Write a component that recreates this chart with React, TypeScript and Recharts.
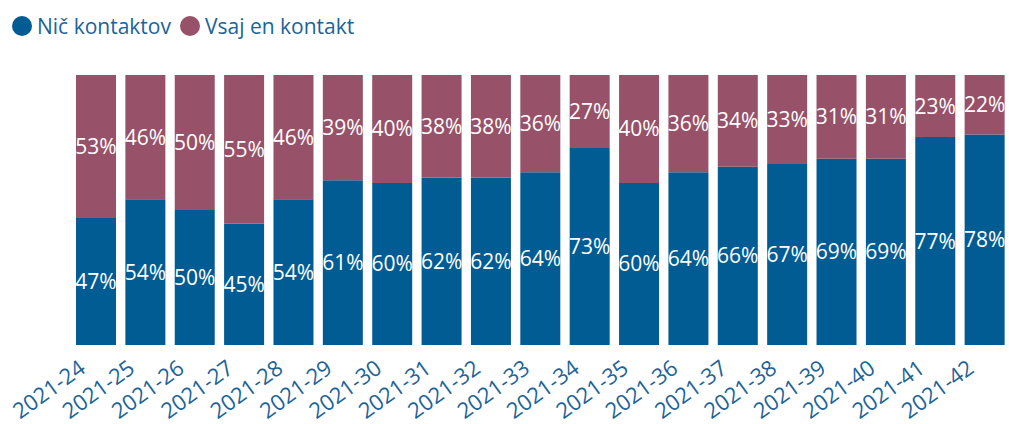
import { BarChart, Bar, XAxis, YAxis, LabelList } from 'recharts';

const weeks = [
  '2021-24', '2021-25', '2021-26', '2021-27', '2021-28', '2021-29', '2021-30',
  '2021-31', '2021-32', '2021-33', '2021-34', '2021-35', '2021-36', '2021-37',
  '2021-38', '2021-39', '2021-40', '2021-41', '2021-42',
];
const noContact = [47, 54, 50, 45, 54, 61, 60, 62, 62, 64, 73, 60, 64, 66, 67, 69, 69, 77, 78];
const anyContact = [53, 46, 50, 55, 46, 39, 40, 38, 38, 36, 27, 40, 36, 34, 33, 31, 31, 23, 22];

const BLUE = '#015c94';
const MAUVE = '#975168';
const TEXT_BLUE = '#1b6398';
const FONT = '"Open Sans", sans-serif';

const data = weeks.map((w, i) => ({ week: w, none: noContact[i], some: anyContact[i] }));

const legendItems = [
  { label: 'Nič kontaktov', color: BLUE },
  { label: 'Vsaj en kontakt', color: MAUVE },
];

// legend sits above the plot, kept out of recharts' offset calc
function ChartLegend() {
  return (
    <div
      style={{
        position: 'absolute', left: 12, top: 12, display: 'flex', alignItems: 'center',
        fontFamily: FONT, fontSize: 21, color: TEXT_BLUE, whiteSpace: 'nowrap',
      }}
    >
      {legendItems.map((it) => (
        <div key={it.label} style={{ display: 'flex', alignItems: 'center', marginRight: 9 }}>
          <span style={{ width: 20, height: 20, borderRadius: 10, background: it.color, marginRight: 5 }} />
          <span>{it.label}</span>
        </div>
      ))}
    </div>
  );
}

function WeekTick(props: any) {
  const { x, y, payload } = props;
  return (
    <g transform={`translate(${x - 17},${y + 7})`}>
      <text
        textAnchor="end"
        transform="rotate(-36)"
        fill={TEXT_BLUE}
        fontFamily={FONT}
        fontSize={22}
        dy={14}
      >
        {payload.value}
      </text>
    </g>
  );
}

const pct = (v: any) => `${v}%`;

export default function App() {
  return (
    <div style={{ position: 'absolute', left: 0, top: 0, width: 1009, height: 424, background: '#fff' }}>
      <ChartLegend />
      <BarChart
        width={1009}
        height={424}
        data={data}
        margin={{ top: 75, right: 0, bottom: 0, left: 71 }}
        barSize={40}
      >
        <XAxis
          dataKey="week"
          axisLine={false}
          tickLine={false}
          interval={0}
          height={79}
          tick={<WeekTick />}
        />
        <YAxis hide domain={[0, 100]} />
        <Bar dataKey="none" stackId="a" fill={BLUE} isAnimationActive={false}>
          <LabelList dataKey="none" position="center" fill="#fff" fontFamily={FONT} fontSize={21} formatter={pct} />
        </Bar>
        <Bar dataKey="some" stackId="a" fill={MAUVE} isAnimationActive={false}>
          <LabelList dataKey="some" position="center" fill="#fff" fontFamily={FONT} fontSize={21} formatter={pct} />
        </Bar>
      </BarChart>
    </div>
  );
}
